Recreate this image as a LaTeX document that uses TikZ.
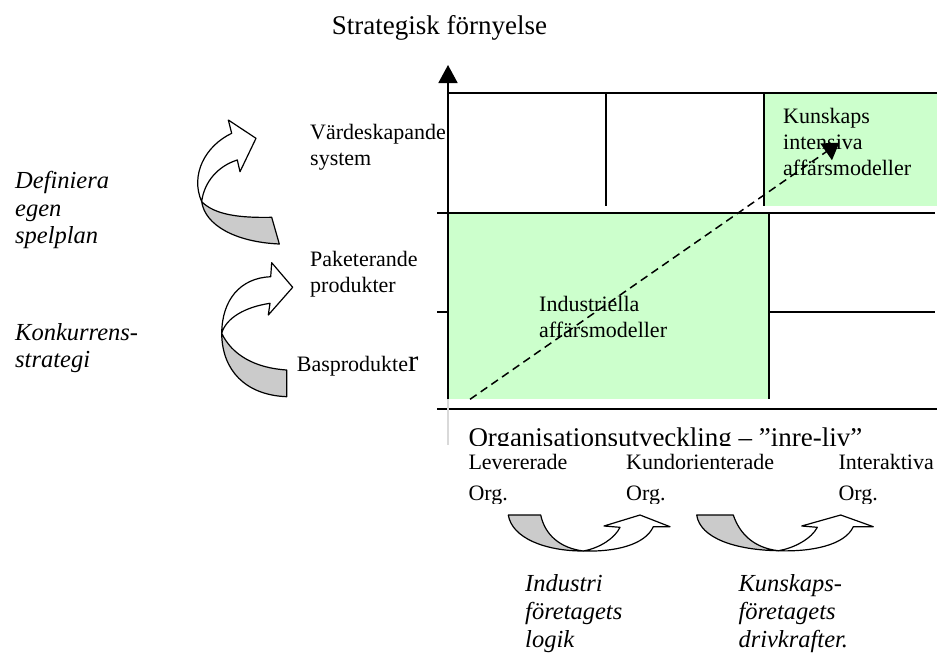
\documentclass[tikz,border=0pt]{standalone}
\usepackage{fontspec}
\setmainfont{Liberation Serif}
\usetikzlibrary{arrows.meta}
\definecolor{mintfill}{HTML}{CCFFCC}
\definecolor{ribbongray}{HTML}{CBCBCB}
\begin{document}
\begin{tikzpicture}[x=1pt,y=-1pt,
  gridline/.style={line width=1.8pt},
  ribface/.style={draw=black, line width=1.2pt, fill=white, line join=round},
  ribback/.style={draw=black, line width=1.2pt, fill=ribbongray, line join=round},
  % multi-line labels are placed by the baseline of their last line
  lbl/.style={anchor=base west, inner sep=0pt, align=left, font=\fontsize{22}{26}\selectfont},
  orglbl/.style={lbl, font=\fontsize{22}{31}\selectfont},
  headlbl/.style={anchor=base west, inner sep=0pt, font=\fontsize{27}{32}\selectfont},
  itlbl/.style={anchor=base west, inner sep=0pt, align=left, font=\fontsize{24.5}{27.7}\selectfont\itshape}
]
\useasboundingbox (0,0) rectangle (937,654);

% ---------- matrix of business models ----------
\draw[gridline] (437,312) -- (935,312);
\fill[mintfill] (448,212.7) rectangle (768.7,399);
\fill[mintfill] (763.7,92.7) rectangle (937,206);
\draw[gridline] (448,92.7) -- (937,92.7);
\draw[gridline] (437,212.7) -- (935,212.7);
\draw[gridline] (437,408.7) -- (937,408.7);
\draw[gridline] (605.7,92.7) -- (605.7,206);
\draw[gridline] (763.7,92.7) -- (763.7,206);
\draw[gridline] (768.7,212.7) -- (768.7,399);
\draw[line width=1.2pt, black!15] (448,399) -- (448,445);
\coordinate (axisfoot) at (448,399);
\coordinate (axistop) at (448,65);
\draw[line width=1.8pt, -{Triangle[length=18pt,width=19pt]}] (axisfoot) -- (axistop);

% ---------- headings ----------
\node[headlbl] (strat) at (331.7,34.3) {Strategisk förnyelse};
\begin{scope}
  \clip (455,405) rectangle (937,445.2);
  \node[headlbl] (orgdev) at (468.3,446.2) {Organisationsutveckling – ”inre-liv”};
\end{scope}

% ---------- labels in the matrix ----------
\node[lbl] (know) at (783,175.3) {Kunskaps\\intensiva\\affärsmodeller};
\node[lbl] (indus) at (539,337.5) {Industriella\\affärsmodeller};

% ---------- dashed development path ----------
\coordinate (pathstart) at (470,399.3);
\coordinate (pathend) at (839.3,142.7);
\draw[line width=1.5pt, dash pattern=on 8pt off 5pt,
      -{Triangle[length=16pt,width=20pt]}] (pathstart) -- (pathend);

% ---------- product levels ----------
\node[lbl] (vard) at (310,165.3) {Värdeskapande\\system};
\node[lbl] (pak) at (310,292) {Paketerande\\produkter};
\node[lbl] (bas) at (296.7,371.7) {Basprodukte{\fontsize{31}{31}\selectfont r}};

\node[itlbl] (def) at (15,243.7) {Definiera\\egen\\spelplan};
\node[itlbl] (konk) at (15,367.7) {Konkurrens-\\strategi};

% upper curved ribbon arrow
\path[ribback] (201.7,201.7) .. controls (215,215) and (240,218) .. (271.7,217.3)
  -- (279.3,244) .. controls (235,242) and (205,225) .. (201.7,201.7) -- cycle;
\path[ribface] (201.7,201.7) .. controls (190,175) and (205,146) .. (231.7,133.3)
  -- (228.3,120) -- (256,138.3) -- (240,171.7) -- (237.3,160)
  .. controls (218,166) and (204,182) .. (201.7,201.7) -- cycle;

% lower curved ribbon arrow
\path[ribback] (221.7,333.3) .. controls (232,355) and (255,368) .. (286.7,370)
  -- (286.7,396.7) .. controls (245,395) and (222,370) .. (221.7,333.3) -- cycle;
\path[ribface] (221.7,333.3) .. controls (222,300) and (240,278) .. (270.7,276.7)
  -- (271.7,262.7) -- (292.7,287.3) -- (268.3,315) -- (270,303.3)
  .. controls (245,307) and (226,318) .. (221.7,333.3) -- cycle;

% ---------- organisation stages ----------
\begin{scope}
  \clip (455,446) rectangle (937,503.5);
  \node[orglbl] (lev) at (468.3,500.3) {Levererade\\Org.};
  \node[orglbl] (kund) at (626,500.3) {Kundorienterade\\Org.};
  \node[orglbl] (inter) at (838.3,500.3) {Interaktiva\\Org.};
\end{scope}

% left bottom ribbon arrow
\path[ribback] (508.3,515) -- (540.7,515)
  .. controls (545,535) and (560,548) .. (583.3,551)
  .. controls (545,551) and (512,538) .. (508.3,515) -- cycle;
\path[ribface] (583.3,551) .. controls (615,552) and (645,545) .. (653.3,526.7)
  -- (670,526.7) -- (640,515) -- (604,526) -- (620,527.3)
  .. controls (615,538) and (600,548) .. (583.3,551) -- cycle;

% right bottom ribbon arrow
\path[ribback] (696.7,515) -- (733.3,515)
  .. controls (740,535) and (755,548) .. (778.3,550.7)
  .. controls (735,550) and (700,538) .. (696.7,515) -- cycle;
\path[ribface] (778.3,550.7) .. controls (812,552) and (845,545) .. (853.3,526.7)
  -- (873.3,526.7) -- (840.7,515) -- (801.7,526) -- (817.3,527.3)
  .. controls (812,538) and (795,548) .. (778.3,550.7) -- cycle;

\node[itlbl] (indlog) at (525,647.1) {Industri\\företagets\\logik};
\node[itlbl] (kunsk) at (738.3,647.1) {Kunskaps-\\företagets\\drivkrafter.};
\end{tikzpicture}
\end{document}
